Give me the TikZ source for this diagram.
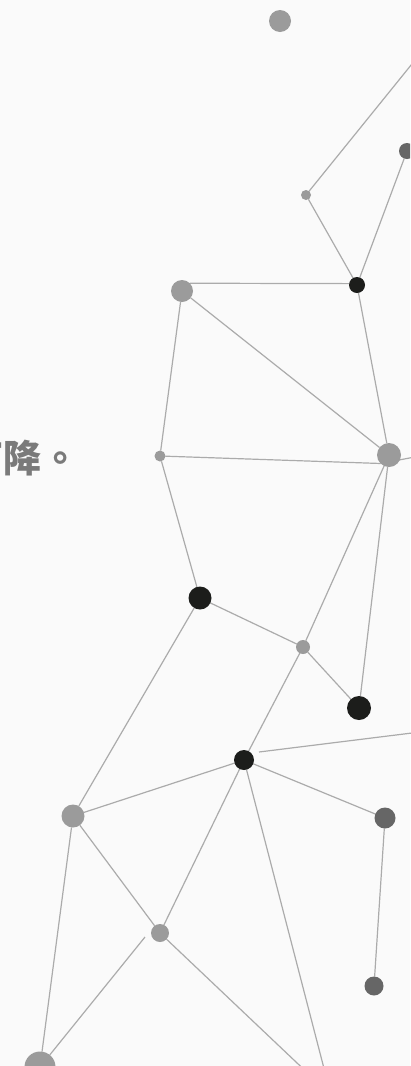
\documentclass[tikz,border=0pt]{standalone}
\usepackage{fontspec}
\newfontfamily\cjk{Noto Sans CJK TC}
\usetikzlibrary{backgrounds}
\definecolor{bgc}{HTML}{FAFAFA}
\definecolor{lnc}{HTML}{ABABAB}
\definecolor{ltg}{HTML}{9B9B9B}
\definecolor{dkg}{HTML}{666666}
\definecolor{blk}{HTML}{1C1D1B}
\definecolor{txc}{HTML}{7A7A7A}
\tikzset{
  dot/.style={circle, inner sep=0pt, outer sep=0pt, minimum size=#1},
  lg/.style={dot=#1, fill=ltg},
  dg/.style={dot=#1, fill=dkg},
  bk/.style={dot=#1, fill=blk},
  link/.style={draw=lnc, line width=1.2pt},
}
\begin{document}
\begin{tikzpicture}[x=1pt, y=-1pt]
\useasboundingbox (0,0) rectangle (410,1066);
\clip (0,0) rectangle (410,1066);
% nodes
\node[lg=22] (A) at (280,21) {};
\node[lg=10] (B) at (306,195) {};
\node[dg=16] (C) at (407,151) {};
\node[bk=16] (D) at (357,285) {};
\node[lg=22] (E) at (182,291) {};
\node[lg=11] (F) at (160,456) {};
\node[lg=24] (G) at (389,455) {};
\node[bk=23] (H) at (200,598) {};
\node[lg=14] (I) at (303,647) {};
\node[bk=24] (J) at (359,708) {};
\node[bk=20] (K) at (244,760) {};
\node[lg=23] (L) at (73,816) {};
\node[dg=21] (M) at (385,818) {};
\node[lg=18] (N) at (160,933) {};
\node[dg=19] (O) at (374,986) {};
\node[lg=31] (P) at (40,1067) {};
% free ends
\coordinate (eB) at (420,54);
\coordinate (sG) at (399,460);
\coordinate (eG) at (420,456);
\coordinate (sK) at (259,752);
\coordinate (eK) at (420,732);
\coordinate (sN) at (145,937);
\coordinate (eN) at (315,1080);
\coordinate (eK2) at (327,1080);
% text
\node[anchor=base west, inner sep=0pt, text=txc, font=\cjk\bfseries\fontsize{38}{38}\selectfont] (T) at (-35,472) {下降。};
\begin{scope}[on background layer]
\fill[bgc] (0,0) rectangle (410,1066);
\draw[link] (B) -- (eB);
\draw[link] (B) -- (D);
\draw[link] (C) -- (D);
\draw[link] (E.north east) -- (D.170);
\draw[link] (D) -- (G);
\draw[link] (E) -- (G);
\draw[link] (E) -- (F);
\draw[link] (F) -- (G.south west);
\draw[link] (F) -- (H);
\draw[link] (sG) -- (eG);
\draw[link] (G) -- (I);
\draw[link] (G) -- (J);
\draw[link] (H) -- (I);
\draw[link] (H) -- (L);
\draw[link] (I) -- (J);
\draw[link] (I) -- (K);
\draw[link] (sK) -- (eK);
\draw[link] (K) -- (L);
\draw[link] (K) -- (M);
\draw[link] (K) -- (N);
\draw[link] (K) -- (eK2);
\draw[link] (L) -- (N);
\draw[link] (L) -- (P);
\draw[link] (M) -- (O);
\draw[link] (sN) -- (P);
\draw[link] (N) -- (eN);
\end{scope}
\end{tikzpicture}
\end{document}
